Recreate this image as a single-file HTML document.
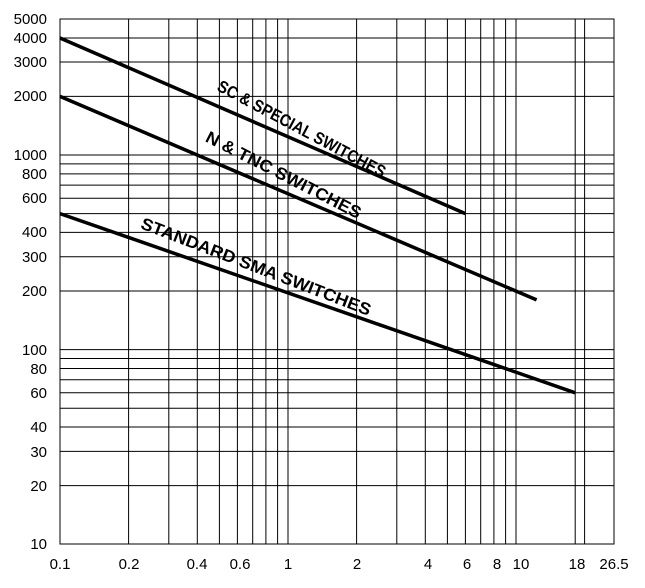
<!DOCTYPE html>
<html><head><style>body{margin:0;background:#fff}</style></head><body>
<svg width="645" height="583" xmlns="http://www.w3.org/2000/svg" font-family="Liberation Sans, sans-serif">
<g stroke="#000" stroke-width="1">
<line x1="128.6" y1="19" x2="128.6" y2="544"/><line x1="168.8" y1="19" x2="168.8" y2="544"/><line x1="197.3" y1="19" x2="197.3" y2="544"/><line x1="219.4" y1="19" x2="219.4" y2="544"/><line x1="237.4" y1="19" x2="237.4" y2="544"/><line x1="252.7" y1="19" x2="252.7" y2="544"/><line x1="265.9" y1="19" x2="265.9" y2="544"/><line x1="277.6" y1="19" x2="277.6" y2="544"/><line x1="288" y1="19" x2="288" y2="544"/>
<line x1="356.6" y1="19" x2="356.6" y2="544"/><line x1="396.8" y1="19" x2="396.8" y2="544"/><line x1="425.3" y1="19" x2="425.3" y2="544"/><line x1="447.4" y1="19" x2="447.4" y2="544"/><line x1="465.4" y1="19" x2="465.4" y2="544"/><line x1="480.7" y1="19" x2="480.7" y2="544"/><line x1="493.9" y1="19" x2="493.9" y2="544"/><line x1="505.6" y1="19" x2="505.6" y2="544"/><line x1="516" y1="19" x2="516" y2="544"/>
<line x1="575.2" y1="19" x2="575.2" y2="544"/><line x1="584.6" y1="19" x2="584.6" y2="544"/>
<line x1="60" y1="38" x2="614" y2="38"/><line x1="60" y1="62" x2="614" y2="62"/><line x1="60" y1="96.4" x2="614" y2="96.4"/>
<line x1="60" y1="155" x2="614" y2="155"/><line x1="60" y1="163.9" x2="614" y2="163.9"/><line x1="60" y1="173.9" x2="614" y2="173.9"/><line x1="60" y1="185.1" x2="614" y2="185.1"/><line x1="60" y1="198.2" x2="614" y2="198.2"/><line x1="60" y1="213.6" x2="614" y2="213.6"/><line x1="60" y1="232.4" x2="614" y2="232.4"/><line x1="60" y1="256.8" x2="614" y2="256.8"/><line x1="60" y1="291" x2="614" y2="291"/>
<line x1="60" y1="349.6" x2="614" y2="349.6"/><line x1="60" y1="358.5" x2="614" y2="358.5"/><line x1="60" y1="368.5" x2="614" y2="368.5"/><line x1="60" y1="379.7" x2="614" y2="379.7"/><line x1="60" y1="392.8" x2="614" y2="392.8"/><line x1="60" y1="408.2" x2="614" y2="408.2"/><line x1="60" y1="427" x2="614" y2="427"/><line x1="60" y1="451.4" x2="614" y2="451.4"/><line x1="60" y1="485.6" x2="614" y2="485.6"/>
<rect x="60" y="19" width="554" height="525" fill="none"/>
</g>
<g stroke="#000" stroke-width="3.5" fill="none">
<line x1="60" y1="38" x2="465.4" y2="213.6"/>
<line x1="60" y1="96.4" x2="536.6" y2="299.9"/>
<line x1="60" y1="213.6" x2="575.2" y2="392.8"/>
</g>
<g font-size="17" font-weight="bold" fill="#000" text-anchor="middle">
<text transform="translate(299,134) rotate(28)" textLength="188" lengthAdjust="spacingAndGlyphs">SC &amp; SPECIAL SWITCHES</text>
<text transform="translate(281,180) rotate(27)" textLength="172" lengthAdjust="spacingAndGlyphs">N &amp; TNC SWITCHES</text>
<text transform="translate(254,272) rotate(21)" textLength="245" lengthAdjust="spacingAndGlyphs">STANDARD SMA SWITCHES</text>
</g>
<g font-size="15" fill="#000" text-anchor="end">
<text x="47" y="24">5000</text><text x="47" y="43">4000</text><text x="47" y="67">3000</text><text x="47" y="101">2000</text>
<text x="47" y="160">1000</text><text x="47" y="179">800</text><text x="47" y="203">600</text><text x="47" y="237">400</text><text x="47" y="262">300</text><text x="47" y="296">200</text>
<text x="47" y="355">100</text><text x="47" y="374">80</text><text x="47" y="398">60</text><text x="47" y="432">40</text><text x="47" y="457">30</text><text x="47" y="491">20</text><text x="47" y="549">10</text>
</g>
<g font-size="15" fill="#000" text-anchor="middle">
<text x="60" y="569">0.1</text><text x="129" y="569">0.2</text><text x="197" y="569">0.4</text><text x="240" y="569">0.6</text><text x="288" y="569">1</text><text x="357" y="569">2</text><text x="428" y="569">4</text><text x="467" y="569">6</text><text x="497" y="569">8</text><text x="521" y="569">10</text><text x="577" y="569">18</text><text x="614" y="569">26.5</text>
</g>
</svg>
</body></html>
